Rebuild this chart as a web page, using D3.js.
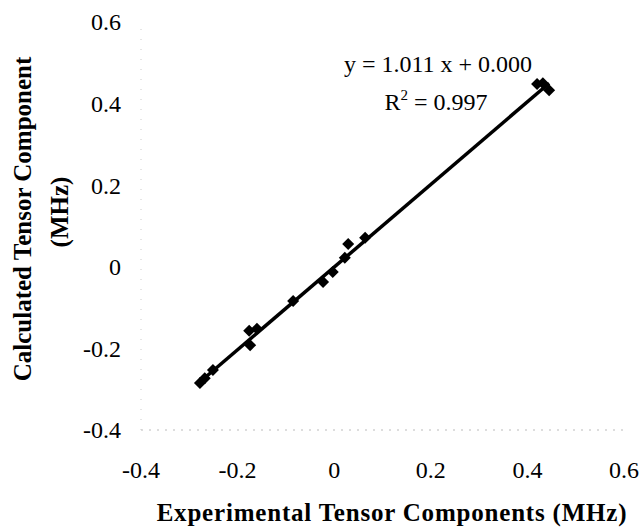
<!DOCTYPE html>
<html>
<head>
<meta charset="utf-8">
<script src="https://cdn.jsdelivr.net/npm/d3@7"></script>
<style>
  body { margin: 0; background: #fff; }
  text { font-family: "Liberation Serif", "Times New Roman", serif; fill: #000; }
</style>
</head>
<body>
<svg width="641" height="530"></svg>
<script>
// experimental vs calculated tensor components (MHz)
const experimental = [-0.278, -0.268, -0.251, -0.176, -0.160, -0.174, -0.085, -0.023, -0.003, 0.022, 0.029, 0.064, 0.420, 0.432, 0.445];
const calculated   = [-0.285, -0.273, -0.253, -0.157, -0.152, -0.192, -0.084, -0.037, -0.013, 0.022, 0.056, 0.071, 0.448, 0.450, 0.433];
const xTicks = [-0.4, -0.2, 0, 0.2, 0.4, 0.6];
const yTicks = [-0.4, -0.2, 0, 0.2, 0.4, 0.6];
const slope = 1.011, intercept = 0.000, r2 = 0.997;

const points = experimental.map((d, i) => ({ x: d, y: calculated[i] }));

const x = d3.scaleLinear().domain([-0.4, 0.6]).range([141, 624]);
const y = d3.scaleLinear().domain([-0.4, 0.6]).range([430, 22]);

const svg = d3.select('svg');

// faint scanned axes
svg.append('line')
  .attr('x1', x(-0.4)).attr('x2', x(0.6))
  .attr('y1', y(-0.4)).attr('y2', y(-0.4))
  .attr('stroke', '#bbb').attr('stroke-width', 1)
  .attr('stroke-dasharray', '2,6');
svg.append('line')
  .attr('x1', x(-0.4)).attr('x2', x(-0.4))
  .attr('y1', y(-0.4)).attr('y2', y(0.6))
  .attr('stroke', '#ccc').attr('stroke-width', 1)
  .attr('stroke-dasharray', '1,9');

const fmt = d => d3.format('')(d).replace('−', '-');

// tick labels
svg.selectAll('.ytick')
  .data(yTicks)
  .enter()
  .append('text')
  .attr('class', 'ytick')
  .attr('x', 121)
  .attr('y', d => y(d))
  .attr('dy', '0.35em')
  .attr('text-anchor', 'end')
  .style('font-size', '24px')
  .text(fmt);

svg.selectAll('.xtick')
  .data(xTicks)
  .enter()
  .append('text')
  .attr('class', 'xtick')
  .attr('x', d => x(d))
  .attr('y', 470)
  .attr('dy', '0.35em')
  .attr('text-anchor', 'middle')
  .style('font-size', '24px')
  .text(fmt);

// regression line
const xr = d3.extent(experimental);
svg.append('line')
  .attr('x1', x(xr[0]) - 3).attr('y1', y(slope * xr[0] + intercept) + 3)
  .attr('x2', x(xr[1])).attr('y2', y(slope * xr[1] + intercept))
  .attr('stroke', '#000').attr('stroke-width', 3.5);

// diamond markers
svg.selectAll('.pt')
  .data(points)
  .enter()
  .append('path')
  .attr('class', 'pt')
  .attr('d', d3.symbol(d3.symbolSquare, 72))
  .attr('transform', d => `translate(${x(d.x)},${y(d.y)}) rotate(45)`)
  .attr('fill', '#000');

// equation
svg.append('text')
  .attr('x', 438).attr('y', 72)
  .attr('text-anchor', 'middle')
  .style('font-size', '24px')
  .text(`y = ${slope.toFixed(3)} x + ${intercept.toFixed(3)}`);
const r = svg.append('text')
  .attr('x', 436).attr('y', 110)
  .attr('text-anchor', 'middle')
  .style('font-size', '24px');
r.append('tspan').text('R');
r.append('tspan').attr('dy', -10).style('font-size', '15px').text('2');
r.append('tspan').attr('dy', 10).text(` = ${r2.toFixed(3)}`);

// axis titles
svg.append('text')
  .attr('x', 392).attr('y', 521)
  .attr('text-anchor', 'middle')
  .style('font-size', '25px').style('font-weight', 'bold')
  .style('letter-spacing', '0.8px')
  .text('Experimental Tensor Components (MHz)');

svg.append('text')
  .attr('transform', 'translate(31,219) rotate(-90)')
  .attr('text-anchor', 'middle')
  .style('font-size', '25px').style('font-weight', 'bold')
  .text('Calculated Tensor Component');
svg.append('text')
  .attr('transform', 'translate(68,212) rotate(-90)')
  .attr('text-anchor', 'middle')
  .style('font-size', '25px').style('font-weight', 'bold')
  .text('(MHz)');
</script>
</body>
</html>
